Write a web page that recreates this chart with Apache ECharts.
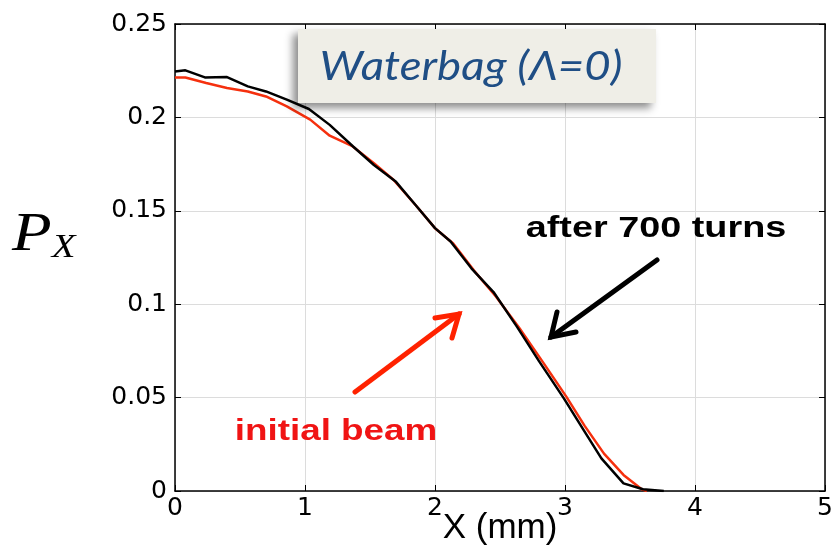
<!DOCTYPE html>
<html><head><meta charset="utf-8">
<script src="https://cdn.jsdelivr.net/npm/echarts@6/dist/echarts.min.js"></script>
<style>html,body{margin:0;padding:0;background:#fff}#c{width:835px;height:554px}</style>
</head><body><div id="c"></div>
<script>
const xTicks = [0, 1, 2, 3, 4, 5];
const yTicks = [0, 0.05, 0.1, 0.15, 0.2, 0.25];
const afterX = [0,0.08,0.23,0.4,0.56,0.7,0.86,1.03,1.19,1.37,1.53,1.7,1.86,2.0,2.12,2.28,2.45,2.63,2.8,2.99,3.14,3.28,3.45,3.6,3.76];
const afterY = [0.2246,0.2252,0.2214,0.2216,0.2166,0.2139,0.2095,0.2045,0.196,0.1844,0.1745,0.1655,0.1523,0.1407,0.1336,0.1192,0.1065,0.088,0.0695,0.0497,0.033,0.0175,0.0041,0.0009,0];
const initX = [0,0.08,0.24,0.4,0.56,0.7,0.86,1.04,1.19,1.36,1.53,1.68,1.86,2.0,2.14,2.3,2.47,2.65,2.83,3.01,3.15,3.3,3.45,3.59,3.63];
const initY = [0.2214,0.2214,0.2184,0.2157,0.2139,0.2112,0.2059,0.1988,0.1902,0.1848,0.1755,0.1666,0.1523,0.1407,0.1325,0.118,0.104,0.0871,0.069,0.0505,0.035,0.02,0.0086,0.0009,0];

const chart = echarts.init(document.getElementById('c'), null, {renderer:'canvas'});
const sans = '"Liberation Sans", Arial, sans-serif';
const tickFont = '"DejaVu Sans", sans-serif';
const xMin = xTicks[0], xMax = xTicks[xTicks.length-1];
const yMin = yTicks[0], yMax = yTicks[yTicks.length-1];
const line = {show:true, onZero:false, lineStyle:{color:'#000', width:1.5}};
const tick = {show:true, inside:true, length:6, lineStyle:{color:'#000', width:1}};
const grid = {show:true, lineStyle:{color:'#dcdcdc', width:1}};
function stretched(x, y, sx, style){
  return {type:'group', x:x, y:y, scaleX:sx, z:11,
    children:[{type:'text', z:11, style:Object.assign({align:'center', verticalAlign:'middle'}, style)}]};
}
chart.setOption({
  animation:false,
  backgroundColor:'#fff',
  grid:{left:175, top:24, width:650, height:467, show:false, containLabel:false, outerBoundsMode:'none'},
  xAxis:[
    {type:'value', min:xMin, max:xMax, interval:1, position:'bottom',
     name:'X (mm)', nameLocation:'middle', nameGap:20, nameMoveOverlap:false,
     nameTextStyle:{color:'#000', fontSize:35, fontFamily:sans},
     axisLine:line, axisTick:tick, splitLine:grid,
     axisLabel:{color:'#000', fontSize:25, fontFamily:tickFont, margin:5}},
    {type:'value', min:xMin, max:xMax, interval:1, position:'top',
     axisLine:line, axisTick:tick, splitLine:{show:false}, axisLabel:{show:false}}
  ],
  yAxis:[
    {type:'value', min:yMin, max:yMax, interval:0.05, position:'left',
     axisLine:line, axisTick:tick, splitLine:grid,
     axisLabel:{color:'#000', fontSize:25, fontFamily:tickFont, margin:8, formatter:v=>String(+v.toFixed(2))}},
    {type:'value', min:yMin, max:yMax, interval:0.05, position:'right',
     axisLine:line, axisTick:tick, splitLine:{show:false}, axisLabel:{show:false}}
  ],
  series:[
    {type:'line', data:initX.map((x,i)=>[x,initY[i]]), showSymbol:false, lineStyle:{color:'#f5300e', width:2.5}, z:3},
    {type:'line', data:afterX.map((x,i)=>[x,afterY[i]]), showSymbol:false, lineStyle:{color:'#000', width:2.5}, z:4}
  ],
  graphic:[
    {type:'rect', shape:{x:298, y:29, width:358, height:74},
     style:{fill:'#efeee7', shadowBlur:8, shadowOffsetX:-5, shadowOffsetY:5, shadowColor:'rgba(0,0,0,0.45)'}, z:10},
    stretched(471, 67, 1.14, {text:'Waterbag (Λ=0)', fill:'#1f4e85', font:'italic 40px Lato, "Open Sans", sans-serif'}),
    stretched(656, 229, 1.26, {text:'after 700 turns', fill:'#000', font:'bold 30px "Liberation Sans", Arial, sans-serif'}),
    stretched(336, 432, 1.27, {text:'initial beam', fill:'#f01414', font:'bold 29px "Liberation Sans", Arial, sans-serif'}),
    {type:'polyline', shape:{points:[[657,260],[551,337]]}, style:{stroke:'#000', lineWidth:5, lineCap:'round'}, z:11},
    {type:'polyline', shape:{points:[[576,332],[551,337],[557,312]]}, style:{stroke:'#000', lineWidth:5, lineCap:'round', lineJoin:'miter', fill:null}, z:11},
    {type:'polyline', shape:{points:[[355,392],[459,314]]}, style:{stroke:'#ff2200', lineWidth:5, lineCap:'round'}, z:11},
    {type:'polyline', shape:{points:[[435,318],[459,314],[452,338]]}, style:{stroke:'#ff2200', lineWidth:5, lineCap:'round', lineJoin:'miter', fill:null}, z:11},
    {type:'group', x:12, y:236, scaleX:1.18, z:11, children:[
      {type:'text', z:11, style:{text:'{p|P}{s|X}', verticalAlign:'middle',
        rich:{p:{font:'italic 55px "Liberation Serif", "DejaVu Serif", serif', fill:'#000'},
              s:{font:'italic 33px "Liberation Serif", "DejaVu Serif", serif', fill:'#000', padding:[24,0,0,0]}}}}]}
  ]
});
</script></body></html>
